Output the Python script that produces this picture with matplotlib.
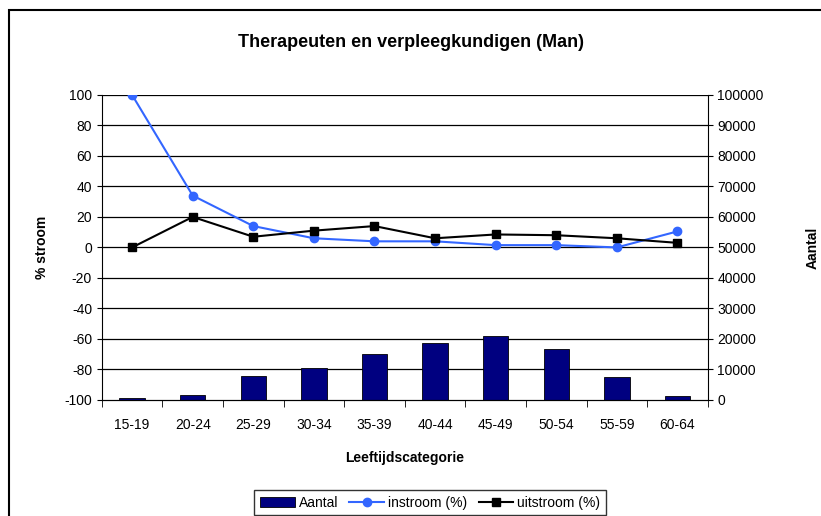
import numpy as np
import matplotlib.pyplot as plt
from matplotlib.patches import Rectangle

plt.rcParams['font.family'] = ['Liberation Sans', 'DejaVu Sans']
plt.rcParams['axes.unicode_minus'] = False

# Donnees
categories = ['15-19', '20-24', '25-29', '30-34', '35-39',
              '40-44', '45-49', '50-54', '55-59', '60-64']
aantal = [500, 1750, 8000, 10400, 14900, 18600, 21000, 16600, 7650, 1400]
instroom = [100, 34, 14, 6, 4, 4, 1.5, 1.5, 0, 10.5]
uitstroom = [0, 20, 7, 11, 14, 6, 8.5, 8, 6, 3]

fig = plt.figure(figsize=(8.21, 5.16), dpi=100)
fig.patches.append(Rectangle((9 / 821, -0.1), 1.2, 1.1 - 9.5 / 516,
                             transform=fig.transFigure, fill=False,
                             edgecolor='black', linewidth=1.5))

ax = fig.add_axes([0.124, 0.225, 0.738, 0.591])
ax2 = ax.twinx()

x = np.arange(len(categories))

# Barres sur l'axe de droite
ax2.bar(x, aantal, width=0.42, color='#000080', edgecolor='black',
        linewidth=0.6, label='Aantal', zorder=2)
ax2.set_ylim(0, 100000)
ax2.set_yticks(np.arange(0, 100001, 10000))
ax2.set_ylabel('Aantal', fontsize=10, fontweight='bold', labelpad=30)

# Lignes sur l'axe de gauche (dessinees au-dessus des barres)
ax.set_zorder(ax2.get_zorder() + 1)
ax.patch.set_visible(False)
ax2.patch.set_visible(True)
ax2.patch.set_facecolor('white')

ax.plot(x, instroom, color='#3366FF', marker='o', markersize=6,
        linewidth=1.5, label='instroom (%)')
ax.plot(x, uitstroom, color='black', marker='s', markersize=6,
        linewidth=1.5, label='uitstroom (%)')
ax.set_ylim(-100, 100)
ax.set_yticks(np.arange(-100, 101, 20))
ax.set_xlim(-0.5, len(categories) - 0.5)
ax.set_xticks(x)
ax.set_xticklabels(categories)
ax.set_xticks(np.arange(-0.5, len(categories), 1), minor=True)
ax.tick_params(axis='x', which='major', length=0, pad=13)
ax.tick_params(axis='x', which='minor', length=5, direction='out')
ax.tick_params(axis='both', labelsize=10)
ax2.tick_params(axis='y', labelsize=10)
ax.set_ylabel('% stroom', fontsize=10, fontweight='bold', labelpad=11)
ax.set_xlabel('Leeftijdscategorie', fontsize=10, fontweight='bold', labelpad=14)

for v in np.arange(-80, 101, 20):
    ax2.axhline((v + 100) * 500, color='black', linewidth=0.9, zorder=1)

for a in (ax, ax2):
    a.spines['top'].set_visible(False)
    a.spines['right'].set_visible(False)
ax2.spines['right'].set_visible(True)
ax2.spines['left'].set_visible(False)
ax.spines['left'].set_color('black')
ax.spines['bottom'].set_color('black')

fig.text(0.5, 0.918, 'Therapeuten en verpleegkundigen (Man)',
         ha='center', va='center', fontsize=13, fontweight='bold')

h1, l1 = ax2.get_legend_handles_labels()
h2, l2 = ax.get_legend_handles_labels()
leg = fig.legend(h1 + h2, l1 + l2, loc='lower center', ncol=3,
                 bbox_to_anchor=(0.524, -0.012), fontsize=10, frameon=True,
                 fancybox=False, edgecolor='black', handlelength=2.5,
                 handletextpad=0.3, columnspacing=0.8, borderpad=0.4)
leg.get_frame().set_linewidth(1.0)

fig.savefig('out.png', dpi=100, facecolor='white')
